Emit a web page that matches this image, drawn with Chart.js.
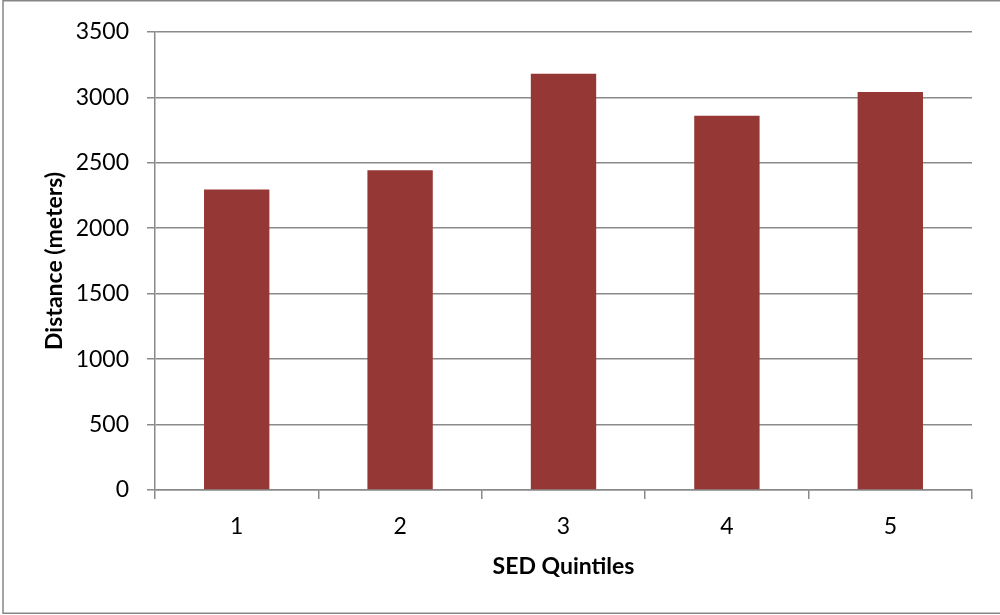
<!DOCTYPE html>
<html>
<head>
<meta charset="utf-8">
<script src="https://cdn.jsdelivr.net/npm/chart.js@4.4.0/dist/chart.umd.min.js"></script>
<style>
  html, body { margin: 0; padding: 0; background: #fff; }
  #wrap { width: 1000px; height: 615px; position: relative; }
</style>
</head>
<body>
<div id="wrap"><canvas id="myBarChart" width="1000" height="615"></canvas></div>
<script>
const categories = ["1", "2", "3", "4", "5"];
const distances = [2295, 2442, 3180, 2859, 3041];
const yTicks = [0, 500, 1000, 1500, 2000, 2500, 3000, 3500];

const gridColor = "#8a8a8a";
const font = "Lato, 'Open Sans', sans-serif";

// outer frame like the Excel chart area
const framePlugin = {
  id: "frame",
  afterDraw(chart) {
    const ctx = chart.ctx;
    ctx.save();
    ctx.strokeStyle = "#868686";
    ctx.lineWidth = 1.5;
    ctx.strokeRect(3, 0.75, 1010, 612.5);
    ctx.restore();
  },
};

const ctx = document.getElementById("myBarChart");
new Chart(ctx, {
  type: "bar",
  data: {
    labels: categories,
    datasets: [
      {
        data: distances,
        backgroundColor: "#953735",
        borderWidth: 0,
        barPercentage: 0.4,
        categoryPercentage: 1.0,
      },
    ],
  },
  options: {
    responsive: false,
    animation: false,
    layout: { padding: { top: 30, right: 28, left: 0, bottom: 0 } },
    plugins: {
      legend: { display: false },
      tooltip: { enabled: false },
    },
    scales: {
      x: {
        afterFit: (scale) => { scale.height = 125; },
        grid: {
          drawOnChartArea: false,
          drawTicks: true,
          tickLength: 9,
          color: gridColor,
          lineWidth: 1.5,
        },
        border: { color: gridColor, width: 1.5 },
        ticks: { color: "#000", font: { family: font, size: 23 }, padding: 14 },
        title: {
          display: true,
          text: "SED Quintiles",
          color: "#000",
          font: { family: font, size: 23, weight: "bold" },
          padding: { top: 0, bottom: 35 },
        },
      },
      y: {
        min: 0,
        max: 3500,
        afterFit: (scale) => { scale.width = 155; },
        afterBuildTicks: (scale) => {
          scale.ticks = yTicks.map((v) => ({ value: v }));
        },
        grid: {
          color: gridColor,
          lineWidth: 1.5,
          tickLength: 8,
        },
        border: { color: gridColor, width: 1.5 },
        ticks: {
          color: "#000",
          font: { family: font, size: 23 },
          padding: 18,
          callback: (value) => String(value),
        },
        title: {
          display: true,
          text: "Distance (meters)",
          color: "#000",
          font: { family: font, size: 23, weight: "bold" },
          padding: { top: 41, bottom: 0 },
        },
      },
    },
  },
  plugins: [framePlugin],
});
</script>
</body>
</html>
